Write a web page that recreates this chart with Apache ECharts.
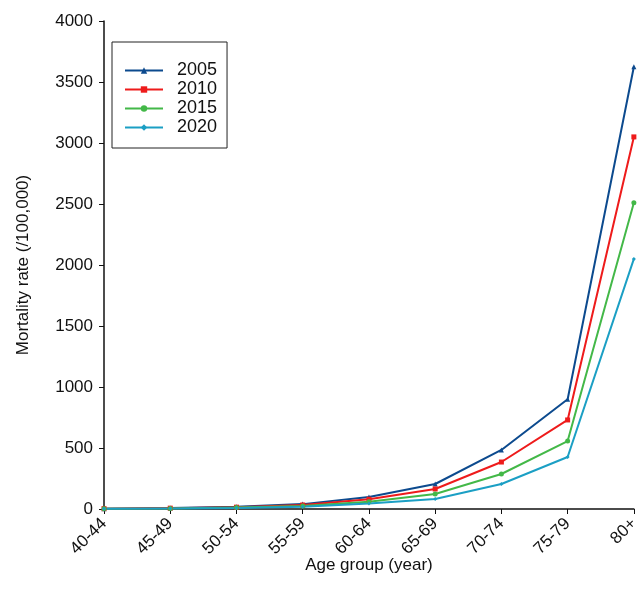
<!DOCTYPE html>
<html><head><meta charset="utf-8">
<script src="https://cdn.jsdelivr.net/npm/echarts@6/dist/echarts.min.js"></script>
<style>html,body{margin:0;padding:0;background:#fff}#c{width:642px;height:602px}</style>
</head><body><div id="c"></div>
<script>
const categories = ['40-44','45-49','50-54','55-59','60-64','65-69','70-74','75-79','80+'];
const s2005 = [3, 8, 18, 40, 98, 205, 484, 900, 3625];
const s2010 = [3, 7, 15, 33, 80, 164, 385, 730, 3050];
const s2015 = [2, 5, 12, 25, 60, 123, 287, 557, 2510];
const s2020 = [2, 4, 9, 18, 45, 82, 205, 426, 2050];
const yTicks = [0, 500, 1000, 1500, 2000, 2500, 3000, 3500, 4000];

const FONT = 'Liberation Sans, Arial, sans-serif';
const mk = (name, data, color, symbol, size) => ({
  name, type: 'line', data, symbol, symbolSize: size,
  lineStyle: { color, width: 2 }, itemStyle: { color },
  emphasis: { disabled: true }
});
const chart = echarts.init(document.getElementById('c'), null, { renderer: 'canvas' });
chart.setOption({
  animation: false,
  textStyle: { fontFamily: FONT },
  grid: { left: 104, right: 6, top: 21, bottom: 93 },
  legend: {
    orient: 'vertical', left: 112, top: 42,
    borderColor: '#222', borderWidth: 1,
    padding: [19, 10, 11, 12],
    itemWidth: 38, itemHeight: 8, itemGap: 0,
    textStyle: { fontSize: 18, color: '#111', fontFamily: FONT, padding: [0, 0, 0, 9], lineHeight: 19 },
    data: ['2005', '2010', '2015', '2020']
  },
  xAxis: {
    type: 'category', data: categories, boundaryGap: false,
    name: 'Age group (year)', nameLocation: 'middle', nameGap: 56, nameMoveOverlap: false,
    nameTextStyle: { fontSize: 17, color: '#111', verticalAlign: 'middle' },
    axisLine: { lineStyle: { color: '#111', width: 1.5 } },
    axisTick: { show: true, alignWithLabel: true, length: 5, lineStyle: { color: '#111' } },
    axisLabel: { rotate: 45, fontSize: 17, color: '#111', margin: 12, interval: 0 }
  },
  yAxis: {
    type: 'value', min: 0, max: 4000, interval: 500,
    name: 'Mortality rate (/100,000)', nameLocation: 'middle', nameGap: 72, nameMoveOverlap: false,
    nameTextStyle: { fontSize: 17, color: '#111' },
    axisLine: { show: true, lineStyle: { color: '#111', width: 1.5 } },
    axisTick: { show: true, length: 5, lineStyle: { color: '#111' } },
    axisLabel: { fontSize: 17, color: '#111', margin: 11, formatter: v => String(v) },
    splitLine: { show: false }
  },
  series: [
    mk('2005', s2005, '#0c4a8e', 'triangle', 5),
    mk('2010', s2010, '#ee1b1b', 'rect', 5),
    mk('2015', s2015, '#43b848', 'circle', 5),
    mk('2020', s2020, '#1b9fc4', 'diamond', 4)
  ]
});
</script></body></html>
